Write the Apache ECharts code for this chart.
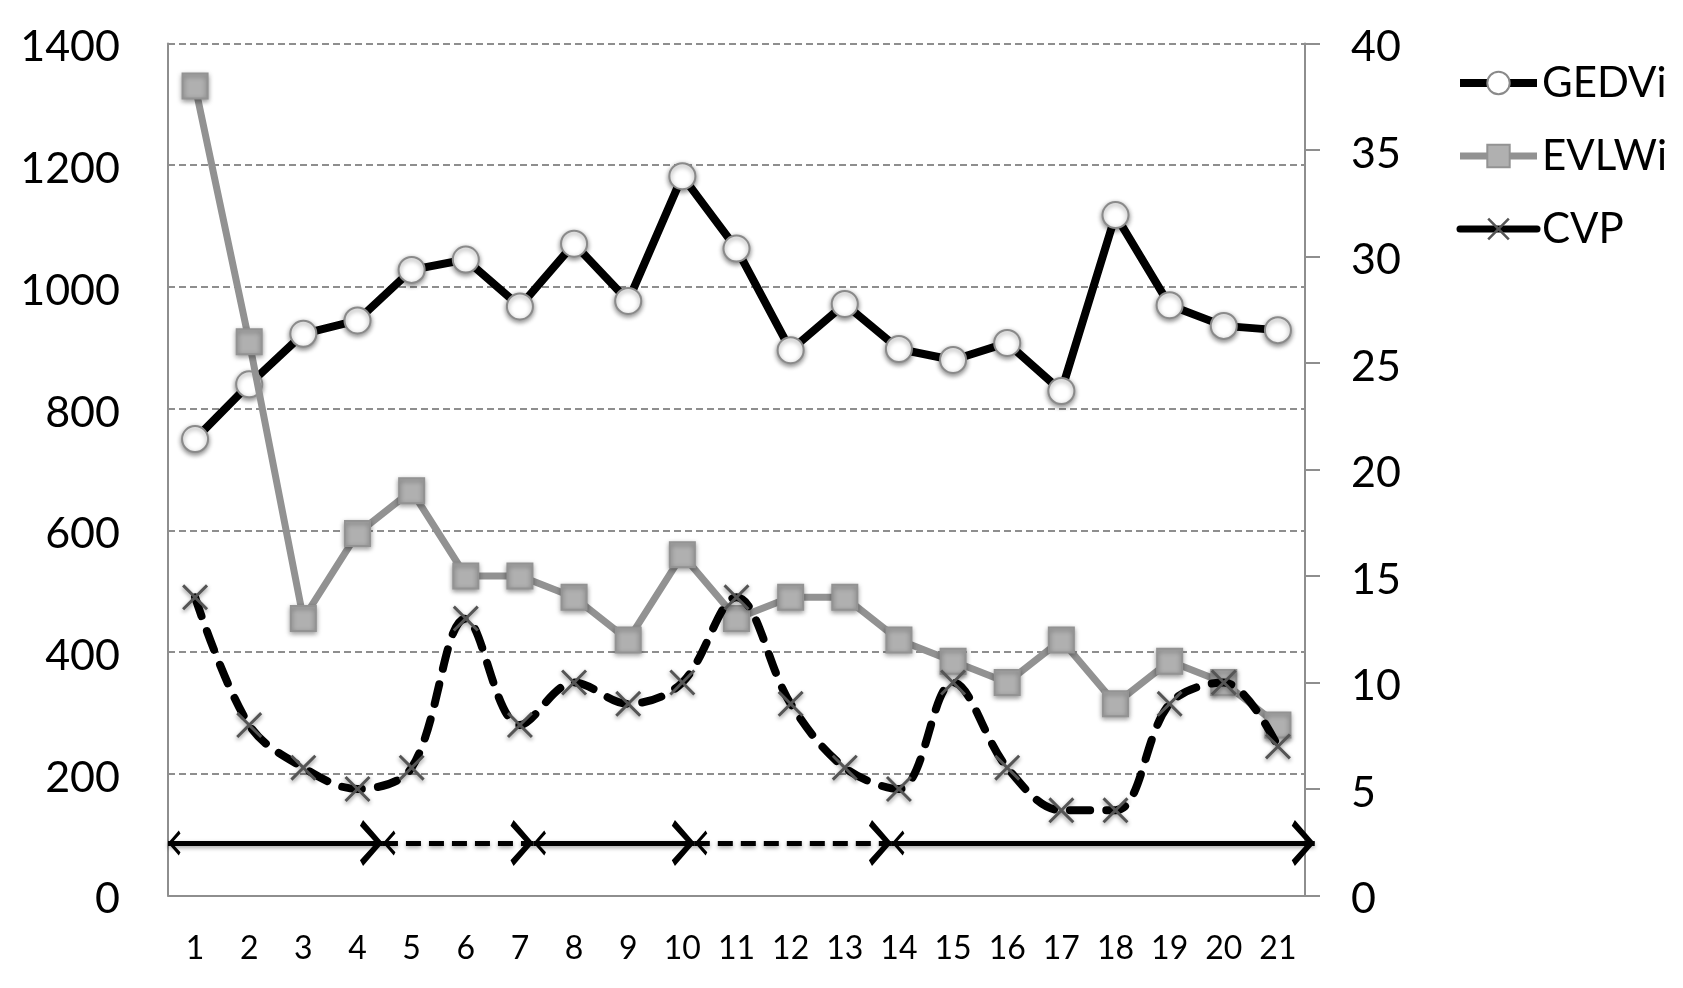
<!DOCTYPE html>
<html><head><meta charset="utf-8">
<script src="https://cdn.jsdelivr.net/npm/echarts@6/dist/echarts.min.js"></script>
<style>html,body{margin:0;padding:0;background:#fff}#c{width:1683px;height:988px}</style>
</head><body><div id="c"></div>
<script>
// ---- data ----
const categories = ['1','2','3','4','5','6','7','8','9','10','11','12','13','14','15','16','17','18','19','20','21'];
const gedvi = [750, 840, 923, 945, 1028, 1045, 968, 1071, 977, 1182, 1063, 896, 972, 898, 880, 908, 829, 1118, 970, 936, 929];
const evlwi = [38, 26, 13, 17, 19, 15, 15, 14, 12, 16, 13, 14, 14, 12, 11, 10, 12, 9, 11, 10, 8];
const cvp   = [14, 8, 6, 5, 6, 13, 8, 10, 9, 10, 14, 9, 6, 5, 10, 6, 4, 4, 9, 10, 7];
const leftAxisRange = [0, 1400, 200];
const rightAxisRange = [0, 40, 5];
// phase arrows along the bottom: [from, to, style] in category-width units
const phaseArrows = [[0, 3.97, 'solid'], [3.97, 6.75, 'dashed'], [6.75, 9.73, 'solid'], [9.73, 13.37, 'dashed'], [13.37, 21.18, 'solid']];
const arrowLevel = 2.47; // on right axis scale

const FONT = 'Lato';
const GRAY = '#8e8e8e';
const chevron = 'path://M12,22 L24,41 L21,44 L12,29 L3,44 L0,41 Z M12,0 L12.01,0 L12,0.01 Z';
const xMark = 'path://M0,1.6 L1.6,0 L10,8.4 L18.4,0 L20,1.6 L11.6,10 L20,18.4 L18.4,20 L10,11.6 L1.6,20 L0,18.4 L8.4,10 Z';
const yRich = {v: {fontFamily: FONT, fontSize: 43, color: '#000', padding: [8, 0, 0, 0]}};

const chart = echarts.init(document.getElementById('c'), null, {renderer: 'canvas'});
chart.setOption({
  animation: false,
  backgroundColor: '#fff',
  textStyle: {fontFamily: FONT, color: '#000'},
  grid: {left: 168, right: 378, top: 43.5, bottom: 92.5, containLabel: false},
  legend: {
    orient: 'vertical', left: 1451, top: 57, itemWidth: 77, itemHeight: 28, itemGap: 31,
    textStyle: {fontFamily: FONT, fontSize: 42, color: '#000', lineHeight: 42},
    data: [
      {name: 'GEDVi', lineStyle: {width: 8, color: '#000'}},
      {name: 'EVLWi', lineStyle: {width: 7, color: '#929292'}},
      {name: 'CVP', lineStyle: {type: 'solid', width: 7, color: '#000'}}
    ]
  },
  xAxis: [{
    type: 'category', data: categories, boundaryGap: true,
    axisLine: {show: true, lineStyle: {color: GRAY, width: 2}},
    axisTick: {show: false},
    axisLabel: {fontFamily: FONT, fontSize: 32, color: '#000', margin: 37, interval: 0},
    splitLine: {show: false}
  }, {
    type: 'value', min: 0, max: 21, show: false, position: 'bottom'
  }],
  yAxis: [{
    type: 'value', min: leftAxisRange[0], max: leftAxisRange[1], interval: leftAxisRange[2], position: 'left',
    axisLine: {show: true, lineStyle: {color: GRAY, width: 2}},
    axisTick: {show: false},
    axisLabel: {margin: 48, formatter: v => '{v|' + v + '}', rich: yRich},
    splitLine: {show: true, lineStyle: {color: GRAY, width: 2, type: [7, 4]}}
  }, {
    type: 'value', min: rightAxisRange[0], max: rightAxisRange[1], interval: rightAxisRange[2], position: 'right',
    axisLine: {show: true, lineStyle: {color: GRAY, width: 2}},
    axisTick: {show: true, inside: false, length: 15, lineStyle: {color: GRAY, width: 2}},
    axisLabel: {margin: 46, formatter: v => '{v|' + v + '}', rich: yRich},
    splitLine: {show: false}
  }],
  series: [
    {
      name: 'GEDVi', type: 'line', yAxisIndex: 0, data: gedvi, z: 3,
      lineStyle: {color: '#000', width: 8},
      symbol: 'circle', symbolSize: 26, showAllSymbol: true,
      itemStyle: {color: '#fff', borderColor: '#8a8a8a', borderWidth: 2, shadowBlur: 5, shadowColor: 'rgba(0,0,0,0.45)', shadowOffsetY: 2}
    },
    {
      name: 'EVLWi', type: 'line', yAxisIndex: 1, data: evlwi, z: 4,
      lineStyle: {color: '#929292', width: 7},
      symbol: 'rect', symbolSize: 25, showAllSymbol: true,
      itemStyle: {color: '#b0b0b0', borderColor: '#939393', borderWidth: 2, shadowBlur: 5, shadowColor: 'rgba(0,0,0,0.4)', shadowOffsetY: 2}
    },
    {
      name: 'CVP', type: 'line', yAxisIndex: 1, data: cvp, z: 5, smooth: 0.35,
      lineStyle: {color: '#000', width: 8, type: [20, 16], cap: 'round'},
      symbol: xMark, symbolSize: 26, showAllSymbol: true,
      itemStyle: {color: '#555', shadowBlur: 4, shadowColor: 'rgba(0,0,0,0.45)', shadowOffsetY: 2}
    },
    {
      name: 'phases', type: 'lines', coordinateSystem: 'cartesian2d', xAxisIndex: 1, yAxisIndex: 1,
      clip: false, z: 6, silent: true,
      symbol: [chevron, chevron], symbolSize: [25, 46],
      lineStyle: {color: '#000', width: 5, opacity: 1, shadowBlur: 4, shadowColor: 'rgba(0,0,0,0.35)', shadowOffsetY: 2},
      itemStyle: {color: '#000'},
      data: phaseArrows.map(a => ({
        coords: [[a[0], arrowLevel], [a[1], arrowLevel]],
        lineStyle: {type: a[2] === 'dashed' ? [15, 8] : 'solid'}
      }))
    }
  ]
});
</script>
</body></html>
